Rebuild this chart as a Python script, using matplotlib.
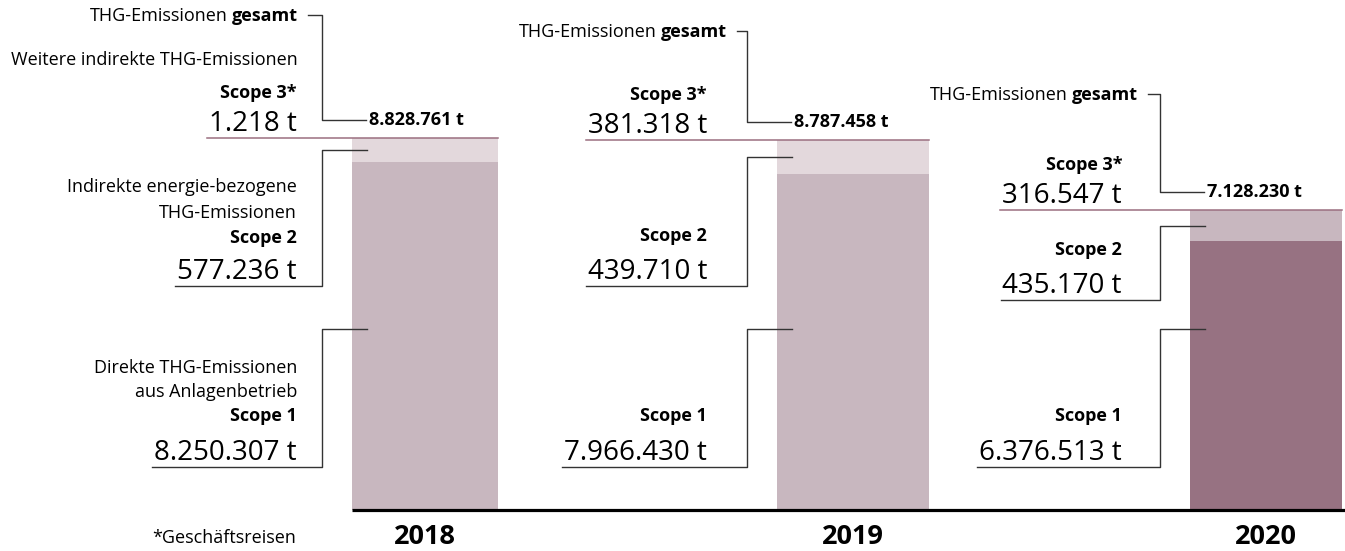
import matplotlib.pyplot as plt

years = ["2018", "2019", "2020"]
scope1 = [8250307, 7966430, 6376513]
scope2 = [577236, 439710, 435170]
scope3 = [1218, 381318, 316547]
totals = [8828761, 8787458, 7128230]


def fmt(v):
    return f"{v:,}".replace(",", ".") + " t"


plt.rcParams['font.family'] = ['Open Sans', 'DejaVu Sans']

W, H = 1345, 551
BASE = 510      # pixel row of the zero line
TPP = 23736     # tonnes per pixel

fig = plt.figure(figsize=(W / 100, H / 100), dpi=100)
ax = fig.add_axes([0, 0, 1, 1])
ax.set_xlim(0, W)
ax.set_ylim(-(H - BASE) * TPP, BASE * TPP)
ax.axis('off')


def row(r):
    # pixel row (from top) -> data y
    return (BASE - r) * TPP


def up(v, px):
    # data value shifted up by px pixels
    return v + px * TPP


bar_left = [352, 777, 1190]
bar_w = [146, 152, 152]
body = ['#c8b7bf', '#c8b7bf', '#977282']
light = ['#e3d8dc', '#e3d8dc', '#c8b7bf']
line_c = '#333333'
purple = '#9b6f80'

s12 = [a + b for a, b in zip(scope1, scope2)]
ax.bar(bar_left, scope1, width=bar_w, align='edge', color=body, zorder=2)
ax.bar(bar_left, scope2, bottom=scope1, width=bar_w, align='edge', color=light, zorder=2)
ax.bar(bar_left, scope3, bottom=s12, width=bar_w, align='edge', color=light, zorder=2)

ax.plot([bar_left[0], W], [0, 0], color='black', lw=2.3, solid_capstyle='butt', zorder=3)
for i, y in enumerate(years):
    ax.text(bar_left[i] + bar_w[i] / 2, row(544), y, ha='center', va='baseline',
            fontsize=19.5, fontweight='bold', color='black')

fig.canvas.draw()
rend = fig.canvas.get_renderer()


def left_of(t):
    return t.get_window_extent(rend).x0


text_right = [297, 707, 1122]
gesamt_row = [21, 37, 100]
gesamt_right = [298, 727, 1138]
s2_rows = [(243, 279, 286), (241, 279, 286), (255, 293, 300)]
s1_rows = (421, 460, 467)
s1_anchor = 329
SMALL = 13
BIG = 20

for i in range(3):
    xr = text_right[i]
    vx = bar_left[i] - 30
    tip = bar_left[i] + 15

    # total
    tb = ax.text(gesamt_right[i], row(gesamt_row[i]), "gesamt", ha='right', va='baseline',
                 fontsize=SMALL, fontweight='bold')
    ax.text(left_of(tb) - 4, row(gesamt_row[i]), "THG-Emissionen", ha='right', va='baseline',
            fontsize=SMALL)
    gy = up(totals[i], 18)
    ax.plot([gesamt_right[i] + 10, vx, vx, bar_left[i] + 14],
            [row(gesamt_row[i] - 6), row(gesamt_row[i] - 6), gy, gy], color=line_c, lw=1)
    ax.text(bar_left[i] + 17, gy, fmt(totals[i]), ha='left', va='center',
            fontsize=SMALL, fontweight='bold')

    # scope 3
    ax.text(xr, up(totals[i], 40), "Scope 3*", ha='right', va='baseline',
            fontsize=SMALL, fontweight='bold')
    t3 = ax.text(xr, up(totals[i], 7), fmt(scope3[i]), ha='right', va='baseline', fontsize=BIG)
    ax.plot([left_of(t3) - 2, bar_left[i] + bar_w[i]], [totals[i], totals[i]],
            color=purple, lw=1.1, zorder=3)

    # scope 2
    r_lab, r_num, r_ul = s2_rows[i]
    ax.text(xr, row(r_lab), "Scope 2", ha='right', va='baseline',
            fontsize=SMALL, fontweight='bold')
    t2 = ax.text(xr, row(r_num), fmt(scope2[i]), ha='right', va='baseline', fontsize=BIG)
    a2 = scope1[i] + (scope2[i] + scope3[i]) / 2
    ax.plot([left_of(t2) - 2, vx, vx, tip], [row(r_ul), row(r_ul), a2, a2],
            color=line_c, lw=1, zorder=3)

    # scope 1
    ax.text(xr, row(s1_rows[0]), "Scope 1", ha='right', va='baseline',
            fontsize=SMALL, fontweight='bold')
    t1 = ax.text(xr, row(s1_rows[1]), fmt(scope1[i]), ha='right', va='baseline', fontsize=BIG)
    ax.plot([left_of(t1) - 2, vx, vx, tip],
            [row(s1_rows[2]), row(s1_rows[2]), row(s1_anchor), row(s1_anchor)],
            color=line_c, lw=1, zorder=3)

# descriptions, first column only
ax.text(298, up(totals[0], 73), "Weitere indirekte THG-Emissionen", ha='right',
        va='baseline', fontsize=SMALL)
ax.text(297, row(192), "Indirekte energie-bezogene", ha='right', va='baseline', fontsize=SMALL)
ax.text(297, row(218), "THG-Emissionen", ha='right', va='baseline', fontsize=SMALL)
ax.text(297, row(373), "Direkte THG-Emissionen", ha='right', va='baseline', fontsize=SMALL)
ax.text(297, row(397), "aus Anlagenbetrieb", ha='right', va='baseline', fontsize=SMALL)
ax.text(296, row(543), "*Geschäftsreisen", ha='right', va='baseline', fontsize=SMALL)

fig.savefig('out.png', dpi=100)
